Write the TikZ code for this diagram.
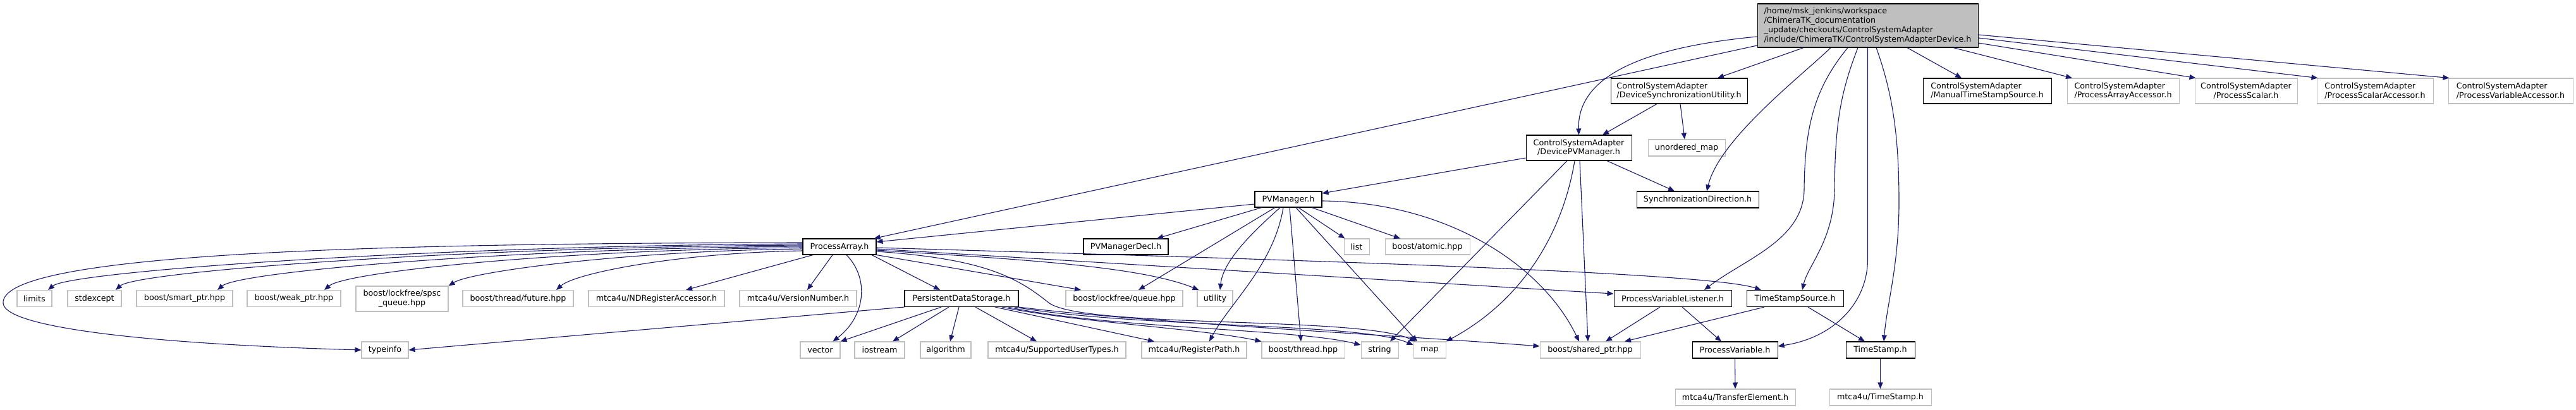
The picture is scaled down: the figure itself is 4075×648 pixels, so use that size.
\documentclass[tikz,border=0pt]{standalone}
\usepackage{fontspec}
\newfontfamily\dvfont{DejaVu Sans}
\usetikzlibrary{arrows.meta}
\definecolor{edgeblue}{HTML}{191970}
\definecolor{extgray}{HTML}{BFBFBF}
\definecolor{maingray}{HTML}{BFBFBF}
\tikzset{
  basebox/.style={draw, line width=1.05pt, inner sep=0pt, minimum height=26pt, text=black,
    font={\dvfont\fontsize{12.7pt}{14.8pt}\selectfont}},
  docbox/.style={basebox, draw=black, fill=white},
  extbox/.style={basebox, draw=extgray, fill=white},
  edg/.style={draw=edgeblue, line width=1.1pt, -{Triangle[length=10pt,width=8pt]}},
}
\begin{document}
\begin{tikzpicture}[x=1pt,y=-1pt]
\fill[white] (0,0) rectangle (4075,648);
\useasboundingbox (0,0) rectangle (4075,648);

% row 0
\node[docbox, fill=maingray, minimum width=349pt, minimum height=69pt, align=left] (main) at (2954.5,40.5)
  {/home/msk\_jenkins/workspace\\/ChimeraTK\_documentation\\\_update/checkouts/ControlSystemAdapter\\/include/ChimeraTK/ControlSystemAdapterDevice.h};
% row 1
\node[docbox, minimum width=216pt, minimum height=40pt, align=left] (dsu) at (2656,144) {ControlSystemAdapter\\/DeviceSynchronizationUtility.h};
\node[docbox, minimum width=203pt, minimum height=40pt, align=left] (mtss) at (3143.5,144) {ControlSystemAdapter\\/ManualTimeStampSource.h};
\node[extbox, minimum width=177pt, minimum height=40pt, align=left] (paa) at (3358.5,144) {ControlSystemAdapter\\/ProcessArrayAccessor.h};
\node[extbox, minimum width=162pt, minimum height=40pt, align=center] (psc) at (3553,144) {ControlSystemAdapter\\/ProcessScalar.h};
\node[extbox, minimum width=184pt, minimum height=40pt, align=left] (psa) at (3757,144) {ControlSystemAdapter\\/ProcessScalarAccessor.h};
\node[extbox, minimum width=197pt, minimum height=40pt, align=left] (pva) at (3971.5,144) {ControlSystemAdapter\\/ProcessVariableAccessor.h};
% row 2
\node[docbox, minimum width=167pt, minimum height=40pt, align=center] (dpm) at (2497.5,234) {ControlSystemAdapter\\/DevicePVManager.h};
\node[extbox, minimum width=122pt] (umap) at (2668,234) {unordered\_map};
% row 3
\node[docbox, minimum width=106pt, minimum height=25pt] (pvm) at (2038,315.5) {PVManager.h};
\node[docbox, minimum width=193pt] (sdir) at (2685.5,316) {SynchronizationDirection.h};
% row 4
\node[docbox, minimum width=116pt, minimum height=25pt] (pa) at (1328,390.5) {ProcessArray.h};
\node[docbox, minimum width=134pt, minimum height=25pt] (pvmd) at (1781,390.5) {PVManagerDecl.h};
\node[extbox, minimum width=40pt, minimum height=25pt] (lst) at (2146,390.5) {list};
\node[extbox, minimum width=134pt, minimum height=25pt] (atom) at (2258,390.5) {boost/atomic.hpp};
% row 5
\node[extbox, minimum width=55pt] (lim) at (54.5,472.5) {limits};
\node[extbox, minimum width=85pt] (stdx) at (149.5,472.5) {stdexcept};
\node[extbox, minimum width=152pt] (smp) at (292,472.5) {boost/smart\_ptr.hpp};
\node[extbox, minimum width=148pt] (wkp) at (465,472.5) {boost/weak\_ptr.hpp};
\node[extbox, minimum width=146pt, minimum height=40pt, align=center] (spsc) at (636,473) {boost/lockfree/spsc\\\_queue.hpp};
\node[extbox, minimum width=175pt] (fut) at (819.5,472.5) {boost/thread/future.hpp};
\node[extbox, minimum width=215pt] (ndra) at (1038.5,472.5) {mtca4u/NDRegisterAccessor.h};
\node[extbox, minimum width=185pt] (vnum) at (1262.5,472.5) {mtca4u/VersionNumber.h};
\node[docbox, minimum width=180pt] (pds) at (1521,472.5) {PersistentDataStorage.h};
\node[extbox, minimum width=185pt] (lfq) at (1778.5,472.5) {boost/lockfree/queue.hpp};
\node[extbox, minimum width=56pt] (util) at (1922,472.5) {utility};
\node[docbox, minimum width=186pt] (pvl) at (2646,472.5) {ProcessVariableListener.h};
\node[docbox, minimum width=153pt] (tss) at (2839.5,472.5) {TimeStampSource.h};
% row 6
\node[extbox, minimum width=74pt] (tinfo) at (609,554) {typeinfo};
\node[extbox, minimum width=63pt] (vec) at (1297.5,554) {vector};
\node[extbox, minimum width=79pt] (iost) at (1391.5,554) {iostream};
\node[extbox, minimum width=80pt] (algo) at (1496,554) {algorithm};
\node[extbox, minimum width=218pt] (sut) at (1672,554) {mtca4u/SupportedUserTypes.h};
\node[extbox, minimum width=166pt] (rpath) at (1889,554) {mtca4u/RegisterPath.h};
\node[extbox, minimum width=131pt] (thr) at (2061.5,554) {boost/thread.hpp};
\node[extbox, minimum width=59pt] (str) at (2182.5,554) {string};
\node[extbox, minimum width=51pt] (mp) at (2261.5,554) {map};
\node[extbox, minimum width=159pt] (shp) at (2515.5,554) {boost/shared\_ptr.hpp};
\node[docbox, minimum width=135pt] (pv) at (2744.5,554) {ProcessVariable.h};
\node[docbox, minimum width=109pt] (ts) at (2974.5,554) {TimeStamp.h};
% row 7
\node[extbox, minimum width=190pt] (te) at (2745,629) {mtca4u/TransferElement.h};
\node[extbox, minimum width=161pt] (mtsh) at (2974.5,629) {mtca4u/TimeStamp.h};

% edges from main
\draw[edg] ([yshift=-31.5pt]main.west) -- ([xshift=-4pt]pa.north east);
\draw[edg] ([yshift=-17.5pt]main.west) .. controls (2600,75) and (2495,120) .. (dpm.north);
\draw[edg] ([xshift=-101.5pt]main.south) -- ([xshift=61pt]dsu.north);
\draw[edg] ([xshift=-58.5pt]main.south) .. controls (2850,120) and (2720,220) .. ([xshift=14.5pt]sdir.north);
\draw[edg] ([xshift=-31.5pt]main.south) .. controls (2870,140) and (2855,200) .. (2854,300) .. controls (2853,380) and (2760,410) .. ([xshift=50pt]pvl.north);
\draw[edg] ([xshift=-15.5pt]main.south) .. controls (2910,150) and (2903,200) .. (2902,300) .. controls (2901,380) and (2860,420) .. ([xshift=11.5pt]tss.north);
\draw[edg] (main.south) -- (2954.5,410) .. controls (2954.5,480) and (2900,535) .. ([yshift=6pt]pv.east);
\draw[edg] ([xshift=13.5pt]main.south) .. controls (2995,150) and (3004,220) .. (3004,320) .. controls (3004,420) and (2985,480) .. ([xshift=5.5pt]ts.north);
\draw[edg] ([xshift=62.5pt]main.south) -- ([xshift=-40.5pt]mtss.north);
\draw[edg] ([xshift=135.5pt]main.south) -- ([xshift=-80.5pt]paa.north);
\draw[edg] ([yshift=-27.5pt]main.east) -- ([xshift=2pt]psc.north west);
\draw[edg] ([yshift=-19.5pt]main.east) -- ([xshift=2pt]psa.north west);
\draw[edg] ([yshift=-14.5pt]main.east) -- ([xshift=2pt]pva.north west);

% dsu
\draw[edg] ([xshift=-35pt]dsu.south) -- ([xshift=37.5pt]dpm.north);
\draw[edg] ([xshift=2pt]dsu.south) -- ([xshift=-3pt]umap.north);

% dpm
\draw[edg] ([yshift=-16pt]dpm.west) -- ([yshift=9.5pt]pvm.east);
\draw[edg] ([xshift=44.5pt]dpm.south) -- ([xshift=-36.5pt]sdir.north);
\draw[edg] ([xshift=-18.5pt]dpm.south) -- ([xshift=16.5pt]str.north);
\draw[edg] ([xshift=-6.5pt]dpm.south) .. controls (2470,380) and (2400,480) .. (mp.north east);
\draw[edg] ([xshift=1.5pt]dpm.south) -- ([xshift=-3.5pt]shp.north);

% pvm
\draw[edg] ([yshift=-7.5pt]pvm.west) -- ([yshift=7.5pt]pa.east);
\draw[edg] ([xshift=-42pt]pvm.south) -- ([xshift=49pt]pvmd.north);
\draw[edg] ([xshift=16pt]pvm.south) -- ([xshift=2pt]lst.north west);
\draw[edg] ([xshift=37pt]pvm.south) -- ([xshift=-43pt]atom.north);
\draw[edg] ([xshift=-21pt]pvm.south) -- ([xshift=22.5pt]lfq.north);
\draw[edg] ([xshift=-13pt]pvm.south) .. controls (1990,360) and (1935,410) .. ([xshift=8pt]util.north);
\draw[edg] ([xshift=-8pt]pvm.south) .. controls (2015,420) and (1945,480) .. ([xshift=24pt]rpath.north);
\draw[edg] ([xshift=2pt]pvm.south) -- ([xshift=-3.5pt]thr.north);
\draw[edg] ([xshift=12pt]pvm.south) -- ([xshift=-19.5pt]mp.north);
\draw[edg] ([yshift=-2.5pt]pvm.east) .. controls (2290,320) and (2440,420) .. ([xshift=-17.5pt]shp.north);

% pa
\draw[edg] ([yshift=4.5pt]pa.west) .. controls (673,389) and (110,430) .. ([xshift=21.5pt]lim.north);
\draw[edg] ([yshift=2.5pt]pa.west) .. controls (726,391) and (215,430) .. ([xshift=33.5pt]stdx.north);
\draw[edg] ([yshift=0.5pt]pa.west) .. controls (807,393) and (378,430) .. ([xshift=52pt]smp.north);
\draw[edg] ([yshift=-1.5pt]pa.west) .. controls (891,395) and (547,430) .. ([xshift=48pt]wkp.north);
\draw[edg] ([yshift=-3.5pt]pa.west) .. controls (990,397) and (745,430) .. (spsc.north east);
\draw[edg] ([yshift=-6.5pt]pa.west) .. controls (1075,400) and (910,432) .. ([xshift=60.5pt]fut.north);
\draw[edg] ([yshift=6.5pt]pa.west) .. controls (600,385) and (0,400) .. (5,480) .. controls (8,520) and (250,545) .. (tinfo.west);
\draw[edg] ([xshift=-42pt]pa.south) -- ([xshift=46.5pt]ndra.north);
\draw[edg] ([xshift=-11pt]pa.south) -- ([xshift=14.5pt]vnum.north);
\draw[edg] ([xshift=11pt]pa.south) .. controls (1375,440) and (1370,500) .. ([xshift=20pt]vec.north);
\draw[edg] ([xshift=51pt]pa.south) -- ([xshift=-34pt]pds.north);
\draw[edg] (pa.south east) -- ([xshift=-68.5pt]lfq.north);
\draw[edg] ([yshift=-5.5pt]pa.east) .. controls (1600,410) and (1800,420) .. ([xshift=3pt]util.north west);
\draw[edg] ([yshift=-3.5pt]pa.east) -- ([yshift=7.5pt]pvl.west);
\draw[edg] ([yshift=-1.5pt]pa.east) .. controls (2000,410) and (2700,430) .. ([xshift=-53.5pt]tss.north);
\draw[edg] ([yshift=-7.5pt]pa.east) .. controls (1560,410) and (1610,440) .. (1660,480) .. controls (1720,520) and (2150,500) .. ([xshift=4pt]mp.north west);

% pds
\draw[edg] (pds.south west) -- (tinfo.east);
\draw[edg] ([xshift=-32pt]pds.south) -- (vec.north east);
\draw[edg] ([xshift=-20pt]pds.south) -- ([xshift=20.5pt]iost.north);
\draw[edg] ([xshift=-4pt]pds.south) -- ([xshift=7pt]algo.north);
\draw[edg] ([xshift=22pt]pds.south) -- ([xshift=-32pt]sut.north);
\draw[edg] ([xshift=53pt]pds.south) -- ([xshift=-63pt]rpath.north);
\draw[edg] ([xshift=64pt]pds.south) .. controls (1700,510) and (1900,520) .. (thr.north west);
\draw[edg] ([xshift=74pt]pds.south) .. controls (1750,520) and (2050,520) .. ([yshift=8pt]str.west);
\draw[edg] ([xshift=84pt]pds.south) .. controls (1800,520) and (2150,510) .. ([yshift=8pt]mp.west);
\draw[edg] (pds.south east) .. controls (1800,510) and (2200,530) .. ([yshift=6pt]shp.west);

% pvl, tss, pv, ts
\draw[edg] ([xshift=-20pt]pvl.south) -- ([xshift=24.5pt]shp.north);
\draw[edg] ([xshift=15pt]pvl.south) -- ([xshift=-21.5pt]pv.north);
\draw[edg] ([xshift=-48.5pt]tss.south) -- ([xshift=54.5pt]shp.north);
\draw[edg] ([xshift=20.5pt]tss.south) -- ([xshift=-24.5pt]ts.north);
\draw[edg] (pv.south) -- (te.north);
\draw[edg] (ts.south) -- (mtsh.north);
\end{tikzpicture}
\end{document}
